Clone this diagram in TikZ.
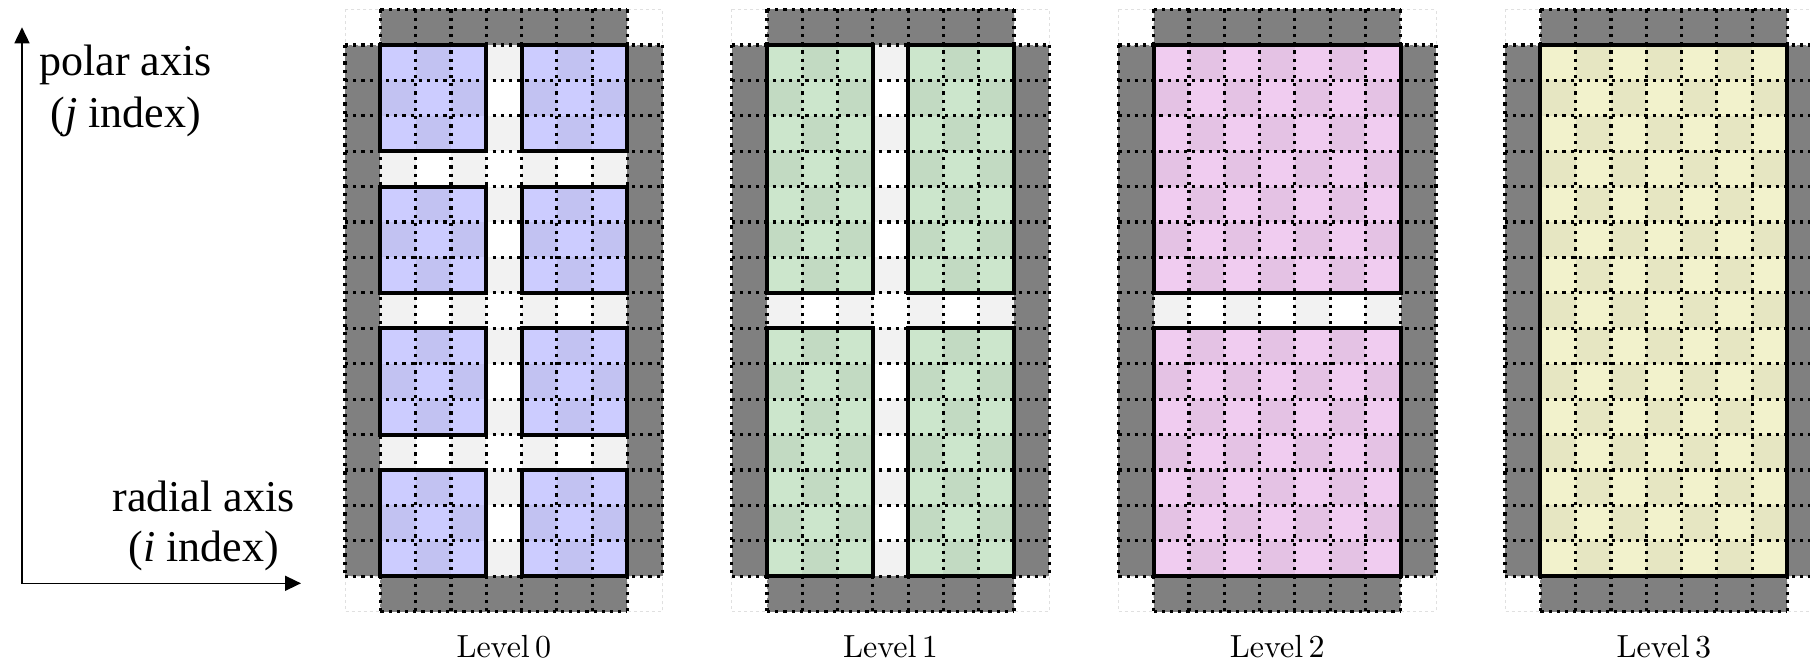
\documentclass[tikz,border=0pt]{standalone}
\usepackage{fontspec}
\newfontfamily\axfont{Liberation Serif}
\newfontfamily\lmten{lmroman10-regular.otf}
\usetikzlibrary{arrows.meta}
\definecolor{ghost}{gray}{0.5}
\definecolor{gapB}{gray}{0.95}
\definecolor{blueA}{RGB}{204,204,255}
\definecolor{blueB}{RGB}{194,194,242}
\definecolor{greenA}{RGB}{204,230,204}
\definecolor{greenB}{RGB}{194,218,194}
\definecolor{pinkA}{RGB}{240,204,240}
\definecolor{pinkB}{RGB}{228,194,228}
\definecolor{yelA}{RGB}{242,242,204}
\definecolor{yelB}{RGB}{230,230,194}
\tikzset{
  gridline/.style={line width=3.2pt, dash pattern=on 3.2pt off 5pt, black},
  cornercell/.style={draw=black!12, dashed, line width=0.8pt, fill=white},
  blockframe/.style={draw=black, line width=4pt},
  axisline/.style={line width=1.6pt, {Triangle[length=16pt,width=15pt]}-{Triangle[length=16pt,width=15pt]}},
  axislabel/.style={font=\axfont\fontsize{44}{51}\selectfont, anchor=base, inner sep=0pt},
  levellabel/.style={font=\lmten\fontsize{32}{38}\selectfont, anchor=base, inner sep=0pt},
}
\newcommand\basegrid[2]{%
  \fill[ghost] (1,0) rectangle (8,1);
  \fill[ghost] (1,16) rectangle (8,17);
  \fill[ghost] (0,1) rectangle (1,16);
  \fill[ghost] (8,1) rectangle (9,16);
  \fill[#1] (1,1) rectangle (8,16);
  \foreach \i in {1,...,7}{\foreach \j in {1,...,15}{%
     \pgfmathtruncatemacro\cpar{mod(\i+\j,2)}%
     \ifnum\cpar=1 \fill[#2] (\i,\j) rectangle ++(1,1);\fi}}%
  \foreach \ci/\cj in {0/0,8/0,0/16,8/16} \path[cornercell] (\ci,\cj) rectangle ++(1,1);
}
\newcommand\gapcol[1]{%
  \foreach \j in {1,...,15}{%
    \pgfmathtruncatemacro\cpar{mod(#1+\j,2)}%
    \ifnum\cpar=1 \fill[gapB] (#1,\j) rectangle ++(1,1);\else \fill[white] (#1,\j) rectangle ++(1,1);\fi}}
\newcommand\gaprow[1]{%
  \foreach \i in {1,...,7}{%
    \pgfmathtruncatemacro\cpar{mod(#1+\i,2)}%
    \ifnum\cpar=1 \fill[gapB] (\i,#1) rectangle ++(1,1);\else \fill[white] (\i,#1) rectangle ++(1,1);\fi}}
\newcommand\gridlines{%
  \draw[gridline] (1,0) -- (8,0);
  \draw[gridline] (1,17) -- (8,17);
  \foreach \k in {1,...,16} \draw[gridline] (0,\k) -- (9,\k);
  \draw[gridline] (0,1) -- (0,16);
  \draw[gridline] (9,1) -- (9,16);
  \foreach \k in {1,...,8} \draw[gridline] (\k,0) -- (\k,17);
}
\begin{document}
\begin{tikzpicture}[x=1pt,y=-1pt]
\useasboundingbox (0,0) rectangle (1810,661);
\clip (0,0) rectangle (1810,661);
% axes
\coordinate (origin) at (22,583.3);
\coordinate (ytip) at (22,27.3);
\coordinate (xtip) at (301,583.3);
\draw[axisline] (ytip) -- (origin) -- (xtip);
\node[axislabel] (pol1) at (125.5,76) {polar axis};
\node[axislabel] (pol2) at (125.5,127) {(\textit{j} index)};
\node[axislabel] (rad1) at (203.5,511) {radial axis};
\node[axislabel] (rad2) at (204,561.7) {(\textit{i} index)};
% Level 0
\begin{scope}[xshift=345pt, yshift=-9.5pt, x=35.3pt, y=-35.42pt]
  \basegrid{blueA}{blueB}
  \gapcol{4}\gaprow{4}\gaprow{8}\gaprow{12}
  \gridlines
  \foreach \c in {1,5}{\foreach \r in {1,5,9,13}{\draw[blockframe] (\c,\r) rectangle ++(3,3);}}
\end{scope}
% Level 1
\begin{scope}[xshift=731.67pt, yshift=-9.5pt, x=35.3pt, y=-35.42pt]
  \basegrid{greenA}{greenB}
  \gapcol{4}\gaprow{8}
  \gridlines
  \foreach \c in {1,5}{\foreach \r in {1,9}{\draw[blockframe] (\c,\r) rectangle ++(3,7);}}
\end{scope}
% Level 2
\begin{scope}[xshift=1118.33pt, yshift=-9.5pt, x=35.3pt, y=-35.42pt]
  \basegrid{pinkA}{pinkB}
  \gaprow{8}
  \gridlines
  \foreach \r in {1,9}{\draw[blockframe] (1,\r) rectangle ++(7,7);}
\end{scope}
% Level 3
\begin{scope}[xshift=1505pt, yshift=-9.5pt, x=35.3pt, y=-35.42pt]
  \basegrid{yelA}{yelB}
  \gridlines
  \draw[blockframe] (1,1) rectangle ++(7,15);
\end{scope}
\node[levellabel] (lab0) at (503.85,657) {Level\,0};
\node[levellabel] (lab1) at (890.5,657) {Level\,1};
\node[levellabel] (lab2) at (1277.2,657) {Level\,2};
\node[levellabel] (lab3) at (1663.85,657) {Level\,3};
\end{tikzpicture}
\end{document}
